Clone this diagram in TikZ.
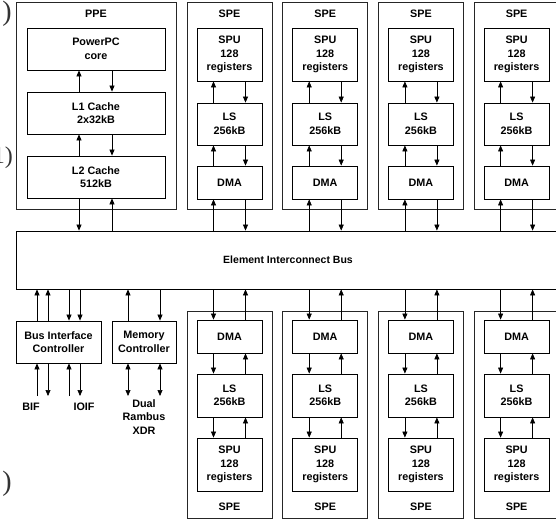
\documentclass[tikz,border=0pt]{standalone}
\usepackage{fontspec}
\setmainfont{Liberation Sans}
\newfontfamily\serifpar{Liberation Serif}
\usetikzlibrary{arrows.meta}
\tikzset{
  blk/.style={draw, line width=0.8pt, inner sep=0pt, align=center,
    font=\bfseries\fontsize{10.8}{13.5}\selectfont},
  outerbox/.style={draw=black!85, line width=0.8pt, inner sep=0pt},
  ttl/.style={inner sep=0pt, font=\bfseries\fontsize{10.8}{13.5}\selectfont, align=center},
  arr/.style={line width=0.7pt, -{Triangle[length=6pt,width=5pt]}},
  darr/.style={line width=0.7pt, {Triangle[length=6pt,width=5pt]}-{Triangle[length=6pt,width=5pt]}},
  parn/.style={inner sep=0pt, anchor=east, font=\serifpar\fontsize{28}{28}\selectfont, text=black!80}
}
\begin{document}
\begin{tikzpicture}[x=1pt,y=-1pt]
\useasboundingbox (0,0) rectangle (556,520);
% stray fragments at left edge
\node[parn] (p1) at (12,14) {)};
\node[parn, font=\serifpar\fontsize{24}{24}\selectfont] (p2) at (13,158) {1)};
\node[parn] (p3) at (12,484) {)};
% PPE
\node[outerbox, minimum width=160pt, minimum height=207pt] (ppe) at (96,105.5) {};
\node[ttl] (ppet) at (96,14) {PPE};
\node[blk, minimum width=138pt, minimum height=42pt] (ppc) at (96,49) {PowerPC\\core};
\node[blk, minimum width=138pt, minimum height=42pt] (l1) at (96,113) {L1 Cache\\2x32kB};
\node[blk, minimum width=138pt, minimum height=42pt] (l2) at (96,177) {L2 Cache\\512kB};
\draw[arr] ([xshift=-17pt]l1.north) -- ([xshift=-17pt]l1.north |- ppc.south);
\draw[arr] ([xshift=16pt]ppc.south) -- ([xshift=16pt]ppc.south |- l1.north);
\draw[arr] ([xshift=-17pt]l2.north) -- ([xshift=-17pt]l2.north |- l1.south);
\draw[arr] ([xshift=16pt]l1.south) -- ([xshift=16pt]l1.south |- l2.north);
% EIB
\node[blk, minimum width=544pt, minimum height=58pt, font=\bfseries\fontsize{10.5}{12}\selectfont] (eib) at (288,260) {Element Interconnect Bus};
\draw[arr] ([xshift=-17pt]l2.south) -- ([xshift=-17pt]l2.south |- eib.north);
\draw[arr] ([xshift=16pt]l2.south |- eib.north) -- ([xshift=16pt]l2.south);
% SPEs
\foreach \i in {0,...,3}{
  \pgfmathsetmacro{\cx}{229.5+95.7*\i}
  % top
  \node[outerbox, minimum width=85pt, minimum height=207pt] (speT\i) at (\cx,105.5) {};
  \node[ttl] (speTt\i) at (\cx,14) {SPE};
  \node[blk, minimum width=65pt, minimum height=53pt] (spuT\i) at (\cx,54.5) {SPU\\128\\registers};
  \node[blk, minimum width=65pt, minimum height=42pt] (lsT\i) at (\cx,124) {LS\\256kB};
  \node[blk, minimum width=65pt, minimum height=33pt] (dmaT\i) at (\cx,182.5) {DMA};
  \draw[arr] ([xshift=-16pt]lsT\i.north) -- ([xshift=-16pt]lsT\i.north |- spuT\i.south);
  \draw[arr] ([xshift=16pt]spuT\i.south) -- ([xshift=16pt]spuT\i.south |- lsT\i.north);
  \draw[arr] ([xshift=-16pt]dmaT\i.north) -- ([xshift=-16pt]dmaT\i.north |- lsT\i.south);
  \draw[arr] ([xshift=16pt]lsT\i.south) -- ([xshift=16pt]lsT\i.south |- dmaT\i.north);
  \draw[arr] ([xshift=-16pt]dmaT\i.south |- eib.north) -- ([xshift=-16pt]dmaT\i.south);
  \draw[arr] ([xshift=16pt]dmaT\i.south) -- ([xshift=16pt]dmaT\i.south |- eib.north);
  % bottom
  \node[outerbox, minimum width=85pt, minimum height=207pt] (speB\i) at (\cx,414.5) {};
  \node[ttl] (speBt\i) at (\cx,507) {SPE};
  \node[blk, minimum width=65pt, minimum height=33pt] (dmaB\i) at (\cx,336.5) {DMA};
  \node[blk, minimum width=65pt, minimum height=43pt] (lsB\i) at (\cx,395.5) {LS\\256kB};
  \node[blk, minimum width=65pt, minimum height=53pt] (spuB\i) at (\cx,464.5) {SPU\\128\\registers};
  \draw[arr] ([xshift=-16pt]dmaB\i.north |- eib.south) -- ([xshift=-16pt]dmaB\i.north);
  \draw[arr] ([xshift=16pt]dmaB\i.north) -- ([xshift=16pt]dmaB\i.north |- eib.south);
  \draw[arr] ([xshift=-16pt]dmaB\i.south) -- ([xshift=-16pt]dmaB\i.south |- lsB\i.north);
  \draw[arr] ([xshift=16pt]lsB\i.north) -- ([xshift=16pt]lsB\i.north |- dmaB\i.south);
  \draw[arr] ([xshift=-16pt]lsB\i.south) -- ([xshift=-16pt]lsB\i.south |- spuB\i.north);
  \draw[arr] ([xshift=16pt]spuB\i.north) -- ([xshift=16pt]spuB\i.north |- lsB\i.south);
}
% Bus Interface Controller and Memory Controller
\node[blk, minimum width=85pt, minimum height=42pt] (bic) at (58.5,342) {Bus Interface\\Controller};
\node[blk, minimum width=64pt, minimum height=42pt] (mc) at (144,342) {Memory\\Controller};
\foreach \dx in {-21.5,-10.5}{
  \draw[arr] ([xshift=\dx pt]bic.north) -- ([xshift=\dx pt]bic.north |- eib.south);
}
\foreach \dx in {10.5,21.5}{
  \draw[arr] ([xshift=\dx pt]bic.north |- eib.south) -- ([xshift=\dx pt]bic.north);
}
\draw[arr] ([xshift=-16pt]mc.north) -- ([xshift=-16pt]mc.north |- eib.south);
\draw[arr] ([xshift=16pt]mc.north |- eib.south) -- ([xshift=16pt]mc.north);
% external interfaces
\coordinate (ext) at (0,396);
\draw[arr] ([xshift=-21.5pt]bic.south |- ext) -- ([xshift=-21.5pt]bic.south);
\draw[arr] ([xshift=-10.5pt]bic.south) -- ([xshift=-10.5pt]bic.south |- ext);
\draw[arr] ([xshift=10.5pt]bic.south |- ext) -- ([xshift=10.5pt]bic.south);
\draw[arr] ([xshift=21.5pt]bic.south) -- ([xshift=21.5pt]bic.south |- ext);
\draw[darr] ([xshift=-16pt]mc.south) -- ([xshift=-16pt]mc.south |- ext);
\draw[darr] ([xshift=16pt]mc.south) -- ([xshift=16pt]mc.south |- ext);
\node[ttl] (bif) at (31,407) {BIF};
\node[ttl] (ioif) at (84,407) {IOIF};
\node[ttl] (xdr) at (144,417) {Dual\\Rambus\\XDR};
\end{tikzpicture}
\end{document}
